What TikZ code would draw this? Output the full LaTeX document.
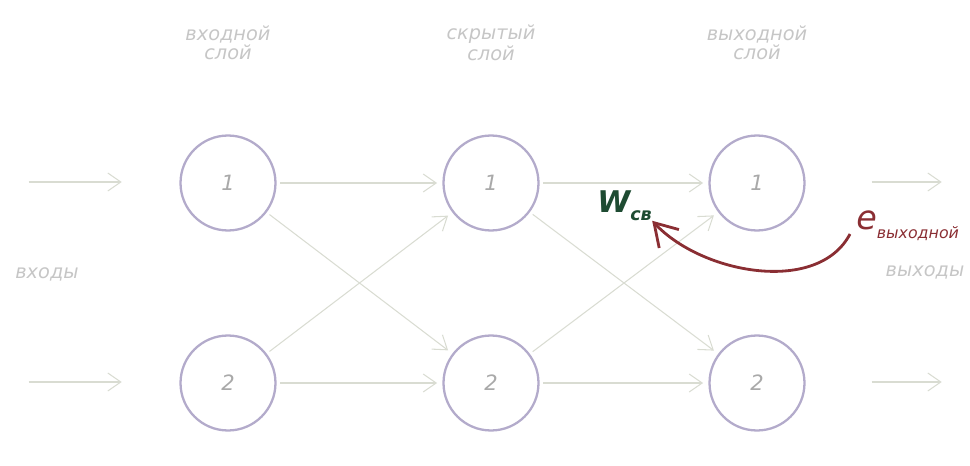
\documentclass[tikz,border=0pt]{standalone}
\usepackage{fontspec}
\setmainfont{DejaVu Sans}
\usetikzlibrary{arrows.meta}
\definecolor{ringlila}{HTML}{B3ABCB}
\definecolor{wirepale}{HTML}{D9DCD2}
\definecolor{labpale}{HTML}{C6C6C6}
\definecolor{digitgrey}{HTML}{A9A9A9}
\definecolor{weightgreen}{HTML}{1E4B32}
\definecolor{errred}{HTML}{8A2E33}

\begin{document}
\begin{tikzpicture}[x=0.02cm, y=-0.02cm]
  % pixel grid of the reference: x to the right, y downwards
  \useasboundingbox (0,0) rectangle (970,466);
  \tikzset{
    neuron/.style={circle, draw=ringlila, line width=1.3pt, minimum size=1.9cm,
                   inner sep=0pt, font=\itshape\fontsize{12}{12}\selectfont,
                   text=digitgrey},
    layerlab/.style={align=center, font=\itshape\fontsize{11}{10.5}\selectfont,
                     text=labpale},
    sidelab/.style={font=\itshape\fontsize{11}{11}\selectfont, text=labpale},
    wire/.style={draw=wirepale, line width=0.6pt,
                 -{Straight Barb[length=2.6mm, width=3.6mm]},
                 shorten <=2pt, shorten >=3pt},
    backprop/.style={draw=errred, line width=1.6pt,
                     -{Straight Barb[length=4.4mm, width=5.4mm]}}}

  % ========== the three layers ==========
  \node[layerlab] (laba) at (228,43) {входной\\слой};
  \node[layerlab] (labb) at (491,43) {скрытый\\слой};
  \node[layerlab] (labc) at (757,43) {выходной\\слой};

  \node[neuron] (in1)  at (228,183) {1};
  \node[neuron] (in2)  at (228,383) {2};
  \node[neuron] (hid1) at (491,183) {1};
  \node[neuron] (hid2) at (491,383) {2};
  \node[neuron] (out1) at (757,183) {1};
  \node[neuron] (out2) at (757,383) {2};

  % ========== signals in and out ==========
  \node[sidelab] (inlab)  at (47,274)  {входы};
  \node[sidelab] (outlab) at (925,272) {выходы};

  % the stubs stop short of the rings, as in the sketch
  \coordinate (src1) at (25,182);  \coordinate (tip1) at (127,182);
  \coordinate (src2) at (25,382);  \coordinate (tip2) at (127,382);
  \coordinate (beg1) at (868,182); \coordinate (snk1) at (947,182);
  \coordinate (beg2) at (868,382); \coordinate (snk2) at (947,382);
  \draw[wire] (src1) -- (tip1);
  \draw[wire] (src2) -- (tip2);
  \draw[wire] (beg1) -- (snk1);
  \draw[wire] (beg2) -- (snk2);

  % ========== links, layer to layer ==========
  \foreach \a/\b in {in1/hid1, in1/hid2, in2/hid1, in2/hid2,
                     hid1/out1, hid1/out2, hid2/out1, hid2/out2}
    \draw[wire] (\a) -- (\b);

  % ========== the weight and the error sent back to it ==========
  \node[text=weightgreen, anchor=base west, inner sep=0pt,
        font=\itshape\bfseries\fontsize{17}{17}\selectfont] (wgt) at (597,212)
    {W\raisebox{-0.5ex}{\fontsize{10}{10}\selectfont св}};
  \node[text=errred, anchor=base west, inner sep=0pt,
        font=\itshape\fontsize{19}{19}\selectfont] (err) at (856,229)
    {e\raisebox{-0.5ex}{\fontsize{9}{9}\selectfont выходной}};

  \coordinate (errtail) at (850,234);
  \draw[backprop] (errtail) .. controls (818,295) and (702,274) .. (wgt.south east);
\end{tikzpicture}
\end{document}
